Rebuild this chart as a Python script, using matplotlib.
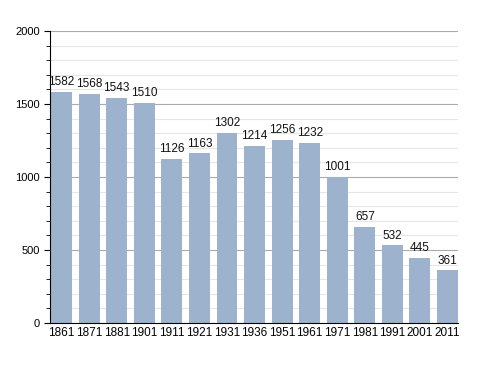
import matplotlib
matplotlib.use("Agg")
import matplotlib.pyplot as plt
from matplotlib.ticker import MultipleLocator

years = ["1861", "1871", "1881", "1901", "1911", "1921", "1931", "1936",
         "1951", "1961", "1971", "1981", "1991", "2001", "2011"]
population = [1582, 1568, 1543, 1510, 1126, 1163, 1302, 1214,
              1256, 1232, 1001, 657, 532, 445, 361]

plt.rcParams['font.family'] = ['Liberation Sans', 'DejaVu Sans']

fig = plt.figure(figsize=(4.88, 3.73), dpi=100)
ax = fig.add_axes([50/488, 50/373, 408/488, 292/373])

x = list(range(len(years)))
ax.set_axisbelow(True)
ax.yaxis.set_major_locator(MultipleLocator(500))
ax.yaxis.set_minor_locator(MultipleLocator(100))
ax.grid(axis='y', which='minor', color='#e6e6e6', linewidth=0.8)
ax.grid(axis='y', which='major', color='#aaaaaa', linewidth=0.8)

bars = ax.bar(x, population, width=0.76, color='#9cb2cd')
for xi, v in zip(x, population):
    ax.text(xi, v + 25, str(v), ha='center', va='bottom', fontsize=8.5, color='#111111')

ax.set_xlim(-0.42, len(years) - 0.62)
ax.set_ylim(0, 2000)
ax.set_xticks(x)
ax.set_xticklabels(years)
ax.tick_params(axis='x', length=0, labelsize=8.5, pad=3)
ax.tick_params(axis='y', which='major', length=4, labelsize=8, direction='out')
ax.tick_params(axis='y', which='minor', length=3, direction='out')
ax.spines['top'].set_visible(False)
ax.spines['right'].set_visible(False)
ax.spines['left'].set_color('black')
ax.spines['bottom'].set_color('black')

fig.savefig("out.png", dpi=100)
